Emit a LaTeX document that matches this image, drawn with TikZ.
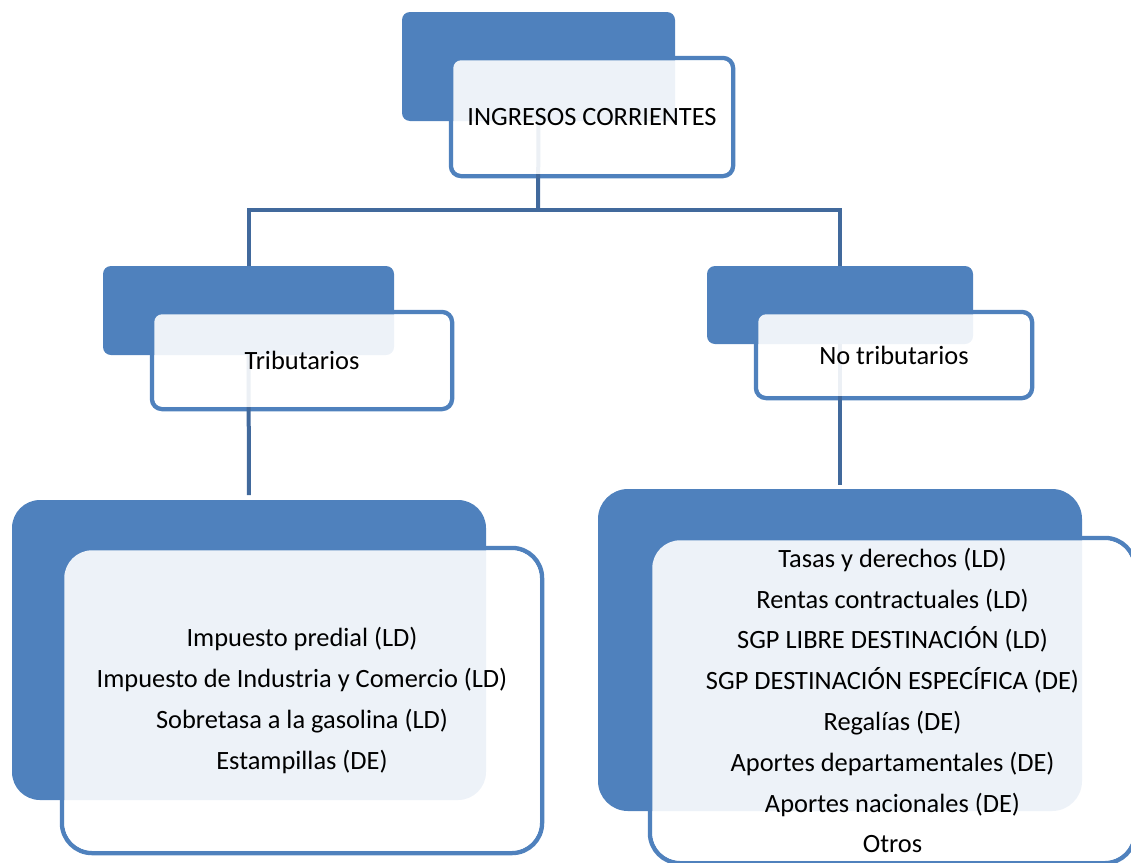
\documentclass[tikz,border=0pt]{standalone}
\usepackage{fontspec}
\setmainfont{Carlito}
\definecolor{accent}{HTML}{4F81BD}
\definecolor{linkc}{HTML}{41699C}
\tikzset{
  gback/.style={fill=accent, draw=none, rounded corners=#1, anchor=north west, inner sep=0pt, outer sep=0pt},
  gframe/.style={draw=accent, line width=4.5pt, rounded corners=#1, anchor=north west, inner sep=0pt, outer sep=0pt},
  gpanel/.style={fill=white, fill opacity=0.9, text opacity=1, draw=none, rounded corners=#1, inner sep=0pt, outer sep=0pt, align=center, text=black, font=\fontsize{26.4}{40.8}\selectfont},
  glink/.style={draw=linkc, line width=4pt},
}
\begin{document}
\begin{tikzpicture}[x=1pt,y=-1pt]
\useasboundingbox (0,0) rectangle (1131,862);
\clip (0,0) rectangle (1131,862);

% named anchor points of the connector tree
\coordinate (split) at (538,210);

% ---------- back rectangles (positions needed for connectors) ----------
% drawn later in order; first define connectors using named nodes
% top group frame
\node[gframe=10pt, minimum width=282pt, minimum height=118pt] (topframe) at (451,58) {};
\node[gback=8pt, minimum width=273pt, minimum height=109pt] (topback) at (402,12) {};

% tributarios frame
\node[gframe=10pt, minimum width=300pt, minimum height=97pt] (tribframe) at (152,312) {};
\node[gback=8pt, minimum width=291pt, minimum height=89pt] (tribback) at (103,266) {};

% no tributarios frame
\node[gframe=10pt, minimum width=276pt, minimum height=86pt] (notribframe) at (756,312) {};
\node[gback=8pt, minimum width=266pt, minimum height=78pt] (notribback) at (707,266) {};

% left bottom frame
\node[gframe=30pt, minimum width=480pt, minimum height=305pt] (leftframe) at (62,548) {};
\node[gback=28pt, minimum width=474pt, minimum height=300pt] (leftback) at (12,500) {};

% right bottom frame
\node[gframe=30pt, minimum width=485pt, minimum height=325pt] (rightframe) at (650,538) {};
\node[gback=30pt, minimum width=484pt, minimum height=322pt] (rightback) at (598,489) {};

% ---------- connectors (behind the panels) ----------
\draw[glink] (topback.south) -- (split);
\draw[glink] (tribback.north) |- (split) -| (notribback.north);
\draw[glink, shorten >=5pt] (tribback.south) -- (leftback.north);
\draw[glink, shorten >=4pt] (notribback.south) -- (rightback.north);

% ---------- translucent panels with text ----------
\node[gpanel=8pt, minimum width=277.5pt, minimum height=113.5pt] (top) at (topframe.center) {INGRESOS CORRIENTES};
\node[gpanel=8pt, minimum width=295.5pt, minimum height=92.5pt] (trib) at (tribframe.center) {Tributarios};
\node[gpanel=8pt, minimum width=271.5pt, minimum height=81.5pt] (notrib) at (notribframe.center) {No tributarios};
\node[gpanel=28pt, minimum width=475.5pt, minimum height=300.5pt] (left) at (leftframe.center) {Impuesto predial (LD)\\Impuesto de Industria y Comercio (LD)\\Sobretasa a la gasolina (LD)\\Estampillas (DE)};
\node[gpanel=28pt, minimum width=480.5pt, minimum height=320.5pt] (right) at (rightframe.center) {Tasas y derechos (LD)\\Rentas contractuales (LD)\\SGP LIBRE DESTINACIÓN (LD)\\SGP DESTINACIÓN ESPECÍFICA (DE)\\Regalías (DE)\\Aportes departamentales (DE)\\Aportes nacionales (DE)\\Otros};
\end{tikzpicture}
\end{document}
